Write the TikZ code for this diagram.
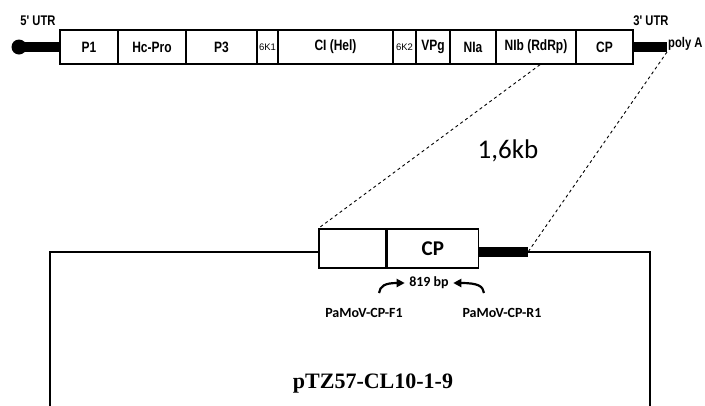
\documentclass[tikz,border=0pt]{standalone}
\usepackage{fontspec}
\setmainfont{Liberation Serif}
\newfontfamily\arialfont{Liberation Sans}
\newfontfamily\narrowfont[FakeStretch=0.8]{Liberation Sans}
\newfontfamily\calfont{Carlito}
\usetikzlibrary{arrows.meta, positioning}

\tikzset{
  gene/.style={draw, line width=1.4pt, minimum height=34pt, inner sep=0pt,
    font=\narrowfont\bfseries\fontsize{15}{15}\selectfont},
  smallgene/.style={gene, font=\arialfont\fontsize{9.5}{9.5}\selectfont},
  insert/.style={draw, line width=1.3pt, minimum height=39pt, inner sep=0pt,
    font=\calfont\bfseries\fontsize{21}{21}\selectfont},
  utr/.style={line width=10pt},
  utrlabel/.style={font=\narrowfont\bfseries\fontsize{14}{14}\selectfont, inner sep=1pt},
  zoomline/.style={dashed, line width=0.9pt},
  plasmid/.style={line width=1.6pt},
  primer/.style={-{Triangle[length=8pt,width=8pt]}, line width=2.2pt},
  primerlabel/.style={font=\calfont\bfseries\fontsize{14}{14}\selectfont}
}

\begin{document}
\begin{tikzpicture}[x=1pt, y=-1pt]
    \useasboundingbox (0,0) rectangle (705,405);

    % Genome map
    \foreach \xa/\xb/\nm/\txt in {60/118/pone/P1, 118/186/hcpro/Hc-Pro, 186/257/pthree/P3,
        278/393/ci/CI (Hel), 416/450/vpg/VPg, 450/496/nia/NIa, 496/576/nib/NIb (RdRp), 576/633/cp/CP}
      \node[gene, minimum width={(\xb-\xa)*1pt}] (\nm) at ({(\xa+\xb)/2}, 47) {\txt};
    \foreach \xa/\xb/\nm/\txt in {257/278/sixkone/6K1, 393/416/sixktwo/6K2}
      \node[smallgene, minimum width={(\xb-\xa)*1pt}] (\nm) at ({(\xa+\xb)/2}, 47) {\txt};

    % UTRs
    \node[circle, fill=black, minimum size=15pt, inner sep=0pt] (cap) at (19,47) {};
    \draw[utr] (cap.center) -- (pone.west);
    \coordinate (polyend) at (667,47);
    \draw[utr] (cp.east) -- (polyend);
    \node[utrlabel] (utrfive) at (38,21) {5' UTR};
    \node[utrlabel] (utrthree) at (651,21) {3' UTR};
    \node[utrlabel, anchor=west] (polya) at (667,44) {poly A};

    % Zoom to the cloned fragment
    \node[font=\calfont\fontsize{27}{27}\selectfont] (size) at (508,151) {1,6kb};

    % Insert in the plasmid
    \node[insert, minimum width=67pt] (ins) at (352.5,248.5) {};
    \node[insert, minimum width=91pt, right=0pt of ins] (inscp) {CP};
    \coordinate (insend) at (528,252);
    \draw[utr] (inscp.east |- insend) -- (insend);
    \draw[zoomline] ([xshift=4pt]nib.south) -- (ins.north west);
    \draw[zoomline] ([yshift=-5pt]polyend) -- (insend);

    % Plasmid backbone
    \coordinate (plasmidtl) at (50,252);
    \coordinate (plasmidtr) at (650,252);
    \draw[plasmid] (ins.west |- insend) -- (plasmidtl) -- (50,410);
    \draw[plasmid] (insend) -- (plasmidtr) -- (650,410);

    % Primers
    \node[primerlabel] (amplicon) at (429,283) {819 bp};
    \draw[primer] (379,293) .. controls (380,286) and (385,283) .. ([xshift=-1pt]amplicon.west);
    \draw[primer] (484,293) .. controls (483,286) and (478,283) .. ([xshift=1pt]amplicon.east);
    \node[primerlabel] (fprimer) at (364,313) {PaMoV-CP-F1};
    \node[primerlabel] (rprimer) at (502,313) {PaMoV-CP-R1};

    \node[font=\bfseries\fontsize{22}{22}\selectfont] (vector) at (373,384) {pTZ57-CL10-1-9};
\end{tikzpicture}
\end{document}
